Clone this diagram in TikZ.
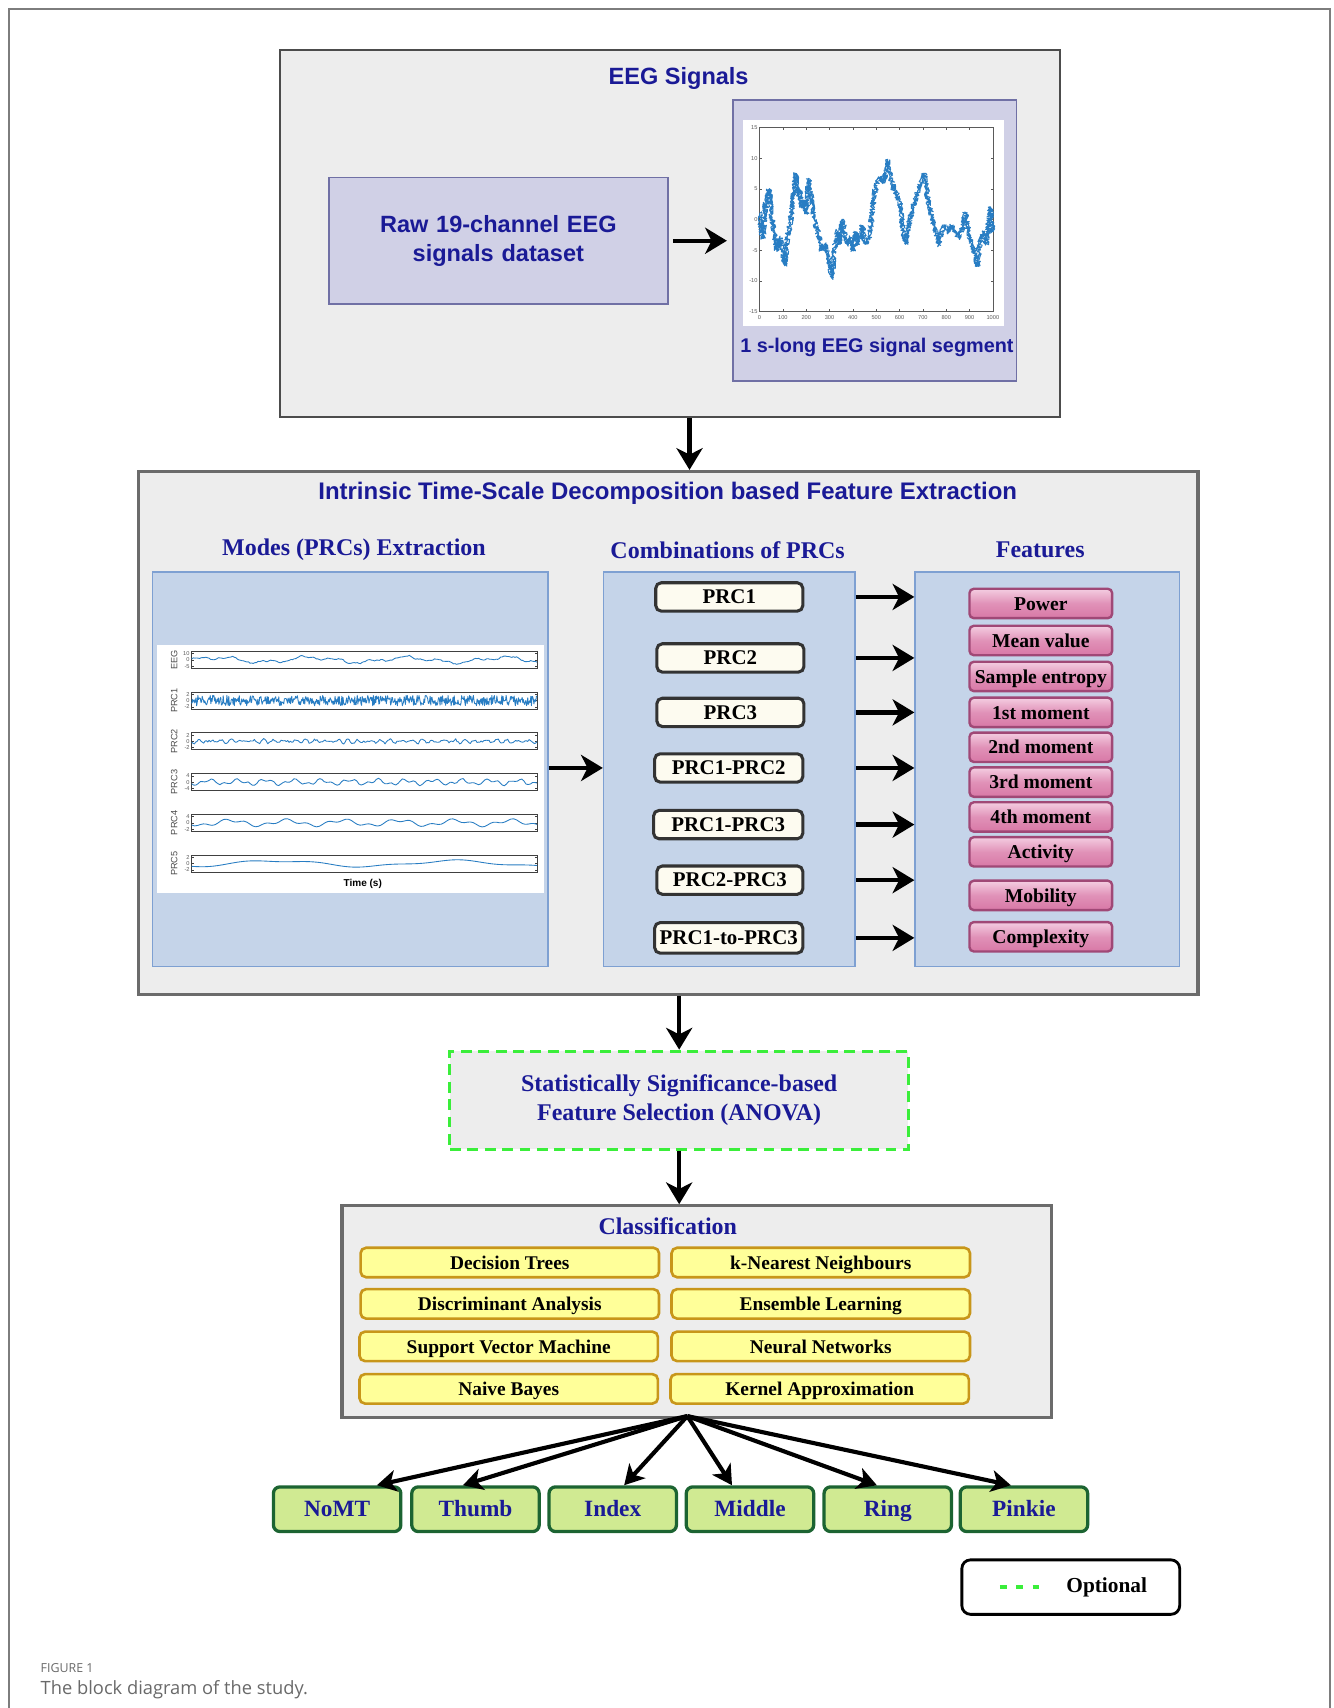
\documentclass[tikz,border=0pt]{standalone}
\usepackage{fontspec}
\setmainfont{Liberation Serif}
\setsansfont{Liberation Sans}
\newfontfamily\capfont{Open Sans}
\usetikzlibrary{arrows.meta,decorations.pathmorphing,calc}
\newlength{\px}\setlength{\px}{0.5pt}
\definecolor{ttlblue}{RGB}{26,26,150}
\definecolor{boxgray}{RGB}{237,237,237}
\definecolor{lav}{RGB}{208,208,230}
\definecolor{lavline}{RGB}{112,112,165}
\definecolor{panelblue}{RGB}{197,212,233}
\definecolor{panelline}{RGB}{126,160,210}
\definecolor{cream}{RGB}{253,251,240}
\definecolor{pinktop}{RGB}{244,205,225}
\definecolor{pinkbot}{RGB}{216,120,166}
\definecolor{pinkline}{RGB}{160,72,118}
\definecolor{ylw}{RGB}{255,255,153}
\definecolor{ylwline}{RGB}{200,150,26}
\definecolor{grn}{RGB}{208,234,146}
\definecolor{grnline}{RGB}{28,100,50}
\definecolor{optgreen}{RGB}{58,238,58}
\definecolor{sigblue}{RGB}{40,125,195}
\definecolor{capgray}{RGB}{105,105,105}
\definecolor{framegray}{RGB}{125,125,125}
\definecolor{axgray}{RGB}{90,90,90}

\tikzset{
  box/.style={inner sep=0pt, align=center},
  grp/.style={box, fill=boxgray},
  lavbox/.style={box, fill=lav, draw=lavline, line width=0.7pt},
  panel/.style={box, fill=panelblue, draw=panelline, line width=0.6pt,
    minimum width=#1, minimum height=362\px},
  plotarea/.style={box, fill=white},
  ssttl/.style={text=ttlblue, font=\sffamily\bfseries\fontsize{10.8}{13.5}\selectfont, align=center},
  rmttl/.style={text=ttlblue, font=\rmfamily\bfseries\fontsize{11}{13}\selectfont, align=center},
  fixtext/.style={text height=6.1pt, text depth=0pt},
  prcbox/.style={box, fixtext, draw=black!80, fill=cream, line width=1.4pt, rounded corners=2.5pt,
    minimum width=135\px, minimum height=26\px, font=\bfseries\fontsize{9.6}{11}\selectfont},
  featbox/.style={box, fixtext, draw=pinkline, line width=1.1pt, rounded corners=2pt,
    top color=pinktop, bottom color=pinkbot, middle color=pinkbot!70!pinktop,
    minimum width=131\px, minimum height=27\px, font=\bfseries\fontsize{9}{10}\selectfont},
  clfbox/.style={box, fixtext, draw=ylwline, fill=ylw, line width=1.2pt, rounded corners=2.5pt,
    minimum width=274\px, minimum height=27\px, font=\bfseries\fontsize{8.9}{10}\selectfont},
  handbox/.style={box, text height=7.1pt, text depth=0pt, draw=grnline, fill=grn, line width=1.5pt, rounded corners=3pt,
    minimum width=117\px, minimum height=41\px, text=ttlblue,
    font=\bfseries\fontsize{10.7}{12}\selectfont},
  arr/.style={line width=2pt, -{Stealth[length=10pt,width=12pt,inset=3pt]}},
  fan/.style={line width=1.9pt, -{Stealth[length=9pt,width=10pt,inset=2.5pt]}},
  tinylab/.style={font=\sffamily\fontsize{2.6}{3}\selectfont, text=axgray, inner sep=0.3pt},
  sig/.style={sigblue, line width=0.4pt, line join=round},
}

\begin{document}
\begin{tikzpicture}[x=0.5pt, y=-0.5pt]
\pgfmathsetseed{4242}
\useasboundingbox (0,0) rectangle (1224,1568);

% figure frame, open at the bottom
\draw[framegray, line width=0.8pt] (8,1600) -- (8,8) -- (1221,8) -- (1221,1600);

% ---------------- EEG signals block ----------------
\node[grp, draw=black!70, line width=0.9pt, minimum width=716\px, minimum height=337\px] (eeg) at (615,214.5) {};
\node[ssttl] (eegttl) at (623,72) {EEG Signals};
\node[lavbox, minimum width=311\px, minimum height=116\px] (raw) at (457.5,221) {};
\node[ssttl, text width=300\px] (rawtxt) at (457.5,221) {Raw 19-channel EEG\\signals dataset};
\node[lavbox, minimum width=260\px, minimum height=258\px] (seg) at (803,221) {};
\node[plotarea, minimum width=240\px, minimum height=189.5\px] (segplot) at (802,204.75) {};
\node[ssttl, font=\sffamily\bfseries\fontsize{9.1}{11}\selectfont] (segcap) at (805,319) {1 s-long EEG signal segment};

% one-second EEG segment
\begin{scope}[shift={(697.3,201.55)}, xscale=0.2142, yscale=-5.643]
  \draw[axgray, line width=0.3pt] (0,-15) rectangle (1000,15);
  \foreach \t in {0,100,...,1000} {
    \draw[axgray, line width=0.25pt] (\t,-15) -- (\t,-14.6) (\t,15) -- (\t,14.6);
    \node[tinylab, anchor=north] at (\t,-15.4) {\t};
  }
  \foreach \v in {-15,-10,...,15} {
    \draw[axgray, line width=0.25pt] (0,\v) -- (9,\v) (1000,\v) -- (991,\v);
    \node[tinylab, anchor=east] at (-4,\v) {\v};
  }
  \foreach \sd/\wd in {11/0.5pt, 29/0.4pt} {
  \pgfmathsetseed{\sd}
  \draw[sig, line width=\wd, decorate, decoration={random steps, segment length=0.4pt, amplitude=1.25pt}]
    plot coordinates {(0,1) (8,-2) (15,-3) (25,3) (35,4) (42,5) (50,1) (58,-1) (65,-3) (75,-5)
      (85,-3) (95,-4) (108,-7.5) (118,-3) (130,-1) (145,4) (155,7.5) (162,4) (170,5) (180,2)
      (190,3) (200,1) (210,6.5) (220,4) (235,0) (250,-2) (265,-5) (280,-4) (295,-6) (310,-9.5)
      (320,-5) (335,-2) (345,-4) (355,0) (365,-2) (375,-4) (385,-3) (400,-5) (412,-2) (425,-4)
      (440,-1) (452,-4) (468,-3) (480,0) (490,4) (505,6) (520,7) (535,6) (548,9.5) (560,7)
      (575,5) (590,4) (605,2) (615,-2) (625,-4) (638,-1) (650,1) (665,3) (680,5) (695,6)
      (705,7.5) (715,5) (728,2) (740,0) (755,-2) (768,-4) (780,-2) (795,-1) (810,-2) (825,-1)
      (840,-2) (855,-3) (870,-1) (882,1) (895,-2) (910,-4) (925,-6) (935,-7.5) (945,-3) (958,-2)
      (970,-4) (980,-1) (990,2) (995,-2) (1000,-1)};
  }
\end{scope}

\draw[arr, shorten <=2pt, shorten >=2.5pt] (raw.east) -- (seg.west);

% ---------------- ITD feature extraction block ----------------
\node[grp, draw=black!58, line width=1.6pt, minimum width=973\px, minimum height=480\px] (itd) at (613.5,673) {};
\node[ssttl, font=\sffamily\bfseries\fontsize{11}{13}\selectfont] (itdttl) at (613,453)
  {Intrinsic Time-Scale Decomposition based Feature Extraction};
\node[rmttl] (h1) at (325,505) {Modes (PRCs) Extraction};
\node[rmttl] (h2) at (668,505) {Combinations of PRCs};
\node[rmttl] (h3) at (955,505) {Features};

\node[panel=363\px] (modes) at (321.5,706) {};
\node[panel=231\px] (comb) at (669.5,706) {};
\node[panel=243\px] (feat) at (961.5,706) {};

% decomposition plot
\node[plotarea, minimum width=355\px, minimum height=228\px] (modeplot) at (321.5,706) {};
\foreach \lab/\ta/\tb/\tc [count=\i from 0] in {EEG/10/0/-5, PRC1/2/0/-2, PRC2/2/0/-2, PRC3/4/0/-4, PRC4/4/0/-2, PRC5/2/0/-2} {
  \pgfmathsetmacro{\ytop}{598+37.4*\i}
  \draw[black!75, line width=0.4pt] (176,\ytop) rectangle (493,\ytop+15.5);
  \node[rotate=90, font=\sffamily\fontsize{4.2}{4.2}\selectfont, text=black!70] at (160,\ytop+7.75) {\lab};
  \node[tinylab, anchor=east] at (175,\ytop+2) {\ta};
  \node[tinylab, anchor=east] at (175,\ytop+7.75) {\tb};
  \node[tinylab, anchor=east] at (175,\ytop+13.5) {\tc};
  \foreach \k in {2,7.75,13.5} {
    \draw[black!75, line width=0.25pt] (176,\ytop+\k) -- (178,\ytop+\k) (493,\ytop+\k) -- (491,\ytop+\k);
  }
}
\pgfmathsetseed{77}
\begin{scope}[shift={(176,605.75)}]
  \draw[sig] plot[domain=0:317, samples=220, smooth] (\x,{-(2.1*sin(\x*4.1)+1.3*sin(\x*11.3+30)+0.6*sin(\x*29+70))+0.5*rand});
\end{scope}
\begin{scope}[shift={(176,643.15)}]
  \draw[sig, line width=0.4pt] plot[domain=0:317, samples=560] (\x,{4.8*rand});
\end{scope}
\begin{scope}[shift={(176,680.55)}]
  \draw[sig] plot[domain=0:317, samples=260] (\x,{1.2*sin(\x*37)+0.8*sin(\x*47+20)+0.9*rand});
\end{scope}
\begin{scope}[shift={(176,717.95)}]
  \draw[sig] plot[domain=0:317, samples=160, smooth] (\x,{1.9*sin(\x*14+40)+1.3*sin(\x*33)+0.35*rand});
\end{scope}
\begin{scope}[shift={(176,755.35)}]
  \draw[sig] plot[domain=0:317, samples=120, smooth] (\x,{2.4*sin(\x*7+20)+1.4*sin(\x*19+60)});
\end{scope}
\begin{scope}[shift={(176,792.75)}]
  \draw[sig] plot[domain=0:317, samples=80, smooth] (\x,{2.6*sin(\x*2.2+100)+0.9*sin(\x*5.5)});
\end{scope}
\node[font=\sffamily\bfseries\fontsize{4.6}{5}\selectfont] (timelab) at (333,811) {Time (s)};

% combinations of PRCs
\node[prcbox] (c1) at (669.5,548) {PRC1};
\node[prcbox] (c2) at (670.5,604) {PRC2};
\node[prcbox] (c3) at (670.5,654) {PRC3};
\node[prcbox, minimum width=136\px] (c4) at (669,705) {PRC1-PRC2};
\node[prcbox, minimum width=137\px] (c5) at (668.5,757) {PRC1-PRC3};
\node[prcbox, minimum width=134\px] (c6) at (670,808) {PRC2-PRC3};
\node[prcbox, minimum width=136\px, minimum height=28\px] (c7) at (669,861) {PRC1-to-PRC3};

% features
\node[featbox] (f1) at (955.5,554) {Power};
\node[featbox] (f2) at (955.5,588) {Mean value};
\node[featbox] (f3) at (955.5,621) {Sample entropy};
\node[featbox] (f4) at (955.5,654) {1st moment};
\node[featbox] (f5) at (955.5,686) {2nd moment};
\node[featbox] (f6) at (955.5,718) {3rd moment};
\node[featbox] (f7) at (955.5,750) {4th moment};
\node[featbox] (f8) at (955.5,782) {Activity};
\node[featbox] (f9) at (955.5,822) {Mobility};
\node[featbox] (f10) at (955.5,860) {Complexity};

\draw[arr] (modes.east |- c4) -- (comb.west |- c4);
\foreach \c in {c1,c2,c3,c4,c5,c6,c7} {
  \draw[arr] (comb.east |- \c) -- (feat.west |- \c);
}

\draw[arr] (eeg.south -| 633,0) -- (itd.north -| 633,0);

% ---------------- feature selection ----------------
\node[grp, draw=optgreen, line width=1.4pt, dash pattern=on 5pt off 3pt,
  minimum width=421\px, minimum height=90\px] (anova) at (623.5,1010) {};
\node[rmttl] (anovatxt) at (623.5,1010) {Statistically Significance-based\\Feature Selection (ANOVA)};
\draw[arr] (itd.south -| anova) -- (anova.north);

% ---------------- classification ----------------
\node[grp, draw=black!58, line width=1.5pt, minimum width=651\px, minimum height=194\px] (class) at (639.5,1204) {};
\node[rmttl] (classttl) at (613,1126) {Classification};
\draw[arr] (anova.south) -- (anova.south |- class.north);

\node[clfbox] (m1) at (468,1159) {Decision Trees};
\node[clfbox] (m2) at (753.5,1159) {k-Nearest Neighbours};
\node[clfbox] (m3) at (468,1197) {Discriminant Analysis};
\node[clfbox] (m4) at (753.5,1197) {Ensemble Learning};
\node[clfbox] (m5) at (467,1236) {Support Vector Machine};
\node[clfbox] (m6) at (753.5,1236) {Neural Networks};
\node[clfbox] (m7) at (467,1275) {Naive Bayes};
\node[clfbox] (m8) at (752.5,1275) {Kernel Approximation};

% ---------------- movement classes ----------------
\node[handbox] (nomt) at (309.5,1385.5) {NoMT};
\node[handbox] (thumb) at (436.5,1385.5) {Thumb};
\node[handbox] (index) at (562.5,1385.5) {Index};
\node[handbox] (middle) at (688.5,1385.5) {Middle};
\node[handbox] (ring) at (815,1385.5) {Ring};
\node[handbox] (pinkie) at (940,1385.5) {Pinkie};

\coordinate (hub) at (631,1300);
\draw[fan] (hub) -- (nomt.north -| 346,0);
\draw[fan] (hub) -- (thumb.north -| 425,0);
\draw[fan] (hub) -- (index.north -| 573,0);
\draw[fan] (hub) -- (middle.north -| 672,0);
\draw[fan] (hub) -- (ring.north -| 805,0);
\draw[fan] (hub) -- (pinkie.north -| 928,0);

% ---------------- legend ----------------
\node[box, draw=black, fill=white, line width=1.3pt, rounded corners=4pt,
  minimum width=200\px, minimum height=50\px] (legend) at (983,1457) {};
\coordinate (dashA) at (918,1457);
\coordinate (dashB) at (956,1457);
\draw[optgreen, line width=1.6pt, dash pattern=on 3pt off 4.5pt] (dashA) -- (dashB);
\node[font=\rmfamily\bfseries\fontsize{9.8}{11}\selectfont] (opt) at (1016,1457) {Optional};

% ---------------- caption ----------------
\node[anchor=west, inner sep=0pt, text=capgray, font=\capfont\fontsize{5.7}{6}\selectfont] (figno) at (37,1531) {FIGURE 1};
\node[anchor=west, inner sep=0pt, text=capgray, font=\capfont\fontsize{8.4}{10}\selectfont] (figcap) at (37,1551) {The block diagram of the study.};
\end{tikzpicture}
\end{document}
